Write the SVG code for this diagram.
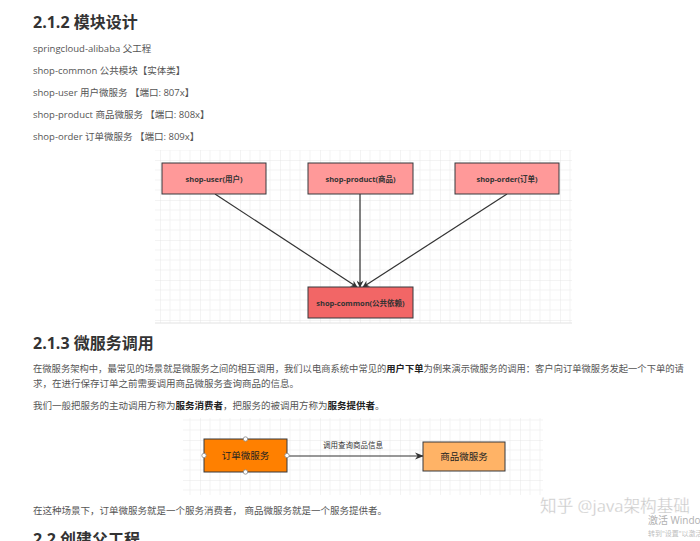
<svg xmlns="http://www.w3.org/2000/svg" width="700" height="541" viewBox="0 0 700 541">
<style>
text{font-family:"Open Sans","Noto Sans CJK SC",sans-serif}
.h{font-size:16px;font-weight:bold;fill:#333}
.p{font-size:9.5px;fill:#555}
.b{font-weight:bold;fill:#222}
.nl{font-size:7.5px;font-weight:bold;fill:#333;text-anchor:middle}
.box{stroke:#36393d;stroke-width:1}
.edge{stroke:#333;stroke-width:1.2;fill:none}
.hd{fill:#fff;stroke:#888;stroke-width:0.8}
</style>
<defs>
<pattern id="grid" width="40" height="40" patternUnits="userSpaceOnUse">
<path d="M10 0V40M20 0V40M30 0V40M0 10H40M0 20H40M0 30H40" stroke="#f0f0f0" stroke-width="0.8" fill="none"/>
<path d="M0 0V40M0 0H40" stroke="#e2e2e2" stroke-width="0.8" fill="none"/>
</pattern>
<marker id="arr" viewBox="0 0 10 10" refX="9" refY="5" markerWidth="7" markerHeight="7" orient="auto" markerUnits="userSpaceOnUse">
<path d="M0,0 L10,5 L0,10 L3,5 z" fill="#333"/>
</marker>
<marker id="arr2" viewBox="0 0 10 10" refX="9" refY="5" markerWidth="9" markerHeight="9" orient="auto" markerUnits="userSpaceOnUse">
<path d="M0,1 L10,5 L0,9 L3,5 z" fill="#333"/>
</marker>
</defs>
<rect width="700" height="541" fill="#fff"/>

<text class="h" x="33" y="28">2.1.2 模块设计</text>
<text class="p" x="33" y="52">springcloud-alibaba 父工程</text>
<text class="p" x="33" y="74">shop-common 公共模块【实体类】</text>
<text class="p" x="33" y="96">shop-user 用户微服务 【端口: 807x】</text>
<text class="p" x="33" y="118">shop-product 商品微服务 【端口: 808x】</text>
<text class="p" x="33" y="140">shop-order 订单微服务 【端口: 809x】</text>

<rect x="155" y="150" width="417" height="173" fill="url(#grid)"/>
<line x1="155" y1="323" x2="572" y2="323" stroke="#e2e2e2"/>

<g id="edges1">
<line class="edge" x1="215" y1="194" x2="357" y2="287" marker-end="url(#arr)"/>
<line class="edge" x1="360" y1="194" x2="360" y2="287" marker-end="url(#arr)"/>
<line class="edge" x1="507" y1="194" x2="363" y2="287" marker-end="url(#arr)"/>
</g>
<g id="shop-user"><rect class="box" x="162" y="163" width="104" height="31" fill="#ff9999"/><text class="nl" x="214" y="181.5">shop-user(用户)</text></g>
<g id="shop-product"><rect class="box" x="308" y="163" width="105" height="31" fill="#ff9999"/><text class="nl" x="360.5" y="181.5">shop-product(商品)</text></g>
<g id="shop-order"><rect class="box" x="455" y="163" width="104" height="31" fill="#ff9999"/><text class="nl" x="507" y="181.5">shop-order(订单)</text></g>
<g id="shop-common"><rect class="box" x="308" y="287" width="105" height="31" fill="#f26666"/><text class="nl" x="360.5" y="305.5">shop-common(公共依赖)</text></g>

<text class="h" x="33" y="349">2.1.3 微服务调用</text>
<text class="p" x="33" y="372" style="font-size:9.3px">在微服务架构中，最常见的场景就是微服务之间的相互调用，我们以电商系统中常见的<tspan class="b">用户下单</tspan>为例来演示微服务的调用：客户向订单微服务发起一个下单的请</text>
<text class="p" x="33" y="387">求，在进行保存订单之前需要调用商品微服务查询商品的信息。</text>
<text class="p" x="33" y="409">我们一般把服务的主动调用方称为<tspan class="b">服务消费者</tspan>，把服务的被调用方称为<tspan class="b">服务提供者</tspan>。</text>

<rect x="183" y="418" width="360" height="77" fill="url(#grid)"/>
<g id="edges2">
<line class="edge" x1="287" y1="456" x2="423" y2="456" marker-end="url(#arr2)"/>
<text x="353" y="448" font-size="7.5" fill="#333" text-anchor="middle">调用查询商品信息</text>
</g>
<g id="order-svc"><rect class="box" x="204" y="439" width="83" height="33" fill="#ff8000"/><text x="245.5" y="459" font-size="9.5" fill="#222" text-anchor="middle">订单微服务</text>
<circle class="hd" cx="245.5" cy="439" r="2.2"/><circle class="hd" cx="245.5" cy="472" r="2.2"/><circle class="hd" cx="204" cy="455.5" r="2.2"/><circle class="hd" cx="287" cy="455.5" r="2.2"/></g>
<g id="product-svc"><rect class="box" x="423" y="442" width="82" height="29" fill="#ffb366"/><text x="464" y="460" font-size="9.5" fill="#222" text-anchor="middle">商品微服务</text></g>

<text class="p" x="33" y="514">在这种场景下，订单微服务就是一个服务消费者， 商品微服务就是一个服务提供者。</text>
<text class="h" x="33" y="545">2.2 创建父工程</text>

<text x="540" y="512" font-size="17" fill="#c8c8c8" stroke="#fff" stroke-width="0.3" textLength="150" lengthAdjust="spacingAndGlyphs">知乎 @java架构基础</text>
<text x="648" y="524" font-size="10" fill="#b0b0b0">激活 Windows</text>
<text x="648" y="536" font-size="7" fill="#c0c0c0">转到"设置"以激活 Windows。</text>
</svg>
